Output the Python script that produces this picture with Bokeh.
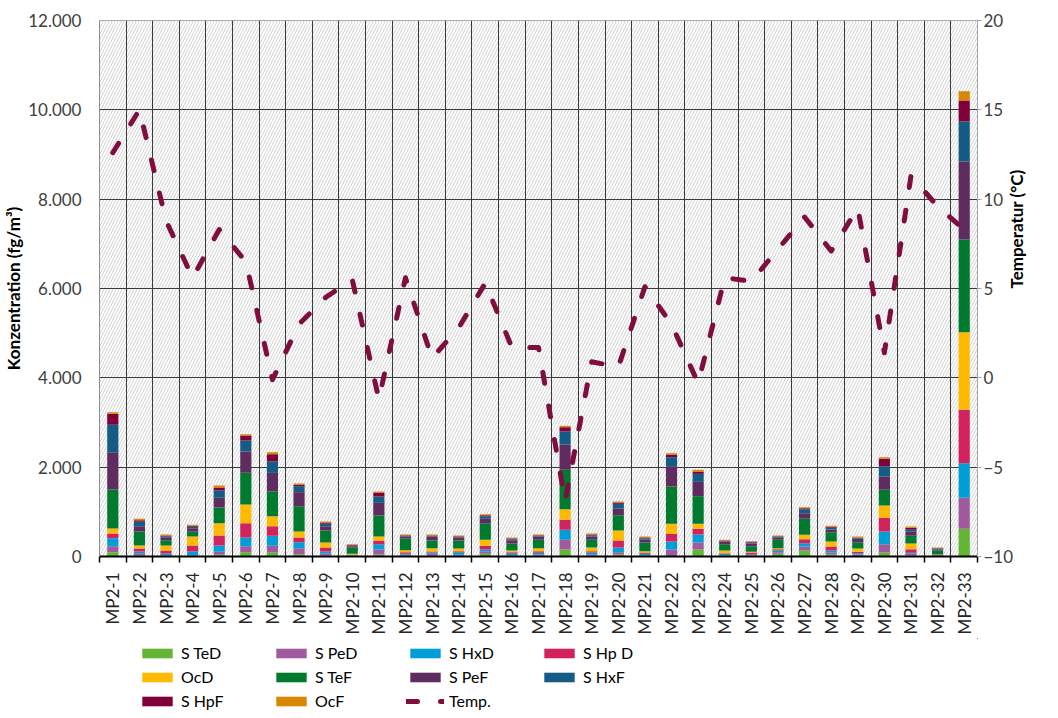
import math
from bokeh.plotting import figure
from bokeh.layouts import column
from bokeh.models import (Range1d, LinearAxis, FixedTicker, BoxAnnotation,
                          Legend, LegendItem, ColumnDataSource)
from bokeh.embed import file_html
from bokeh.resources import INLINE

# ---------------- data ----------------
categories = ["MP2-1", "MP2-2", "MP2-3", "MP2-4", "MP2-5", "MP2-6", "MP2-7", "MP2-8",
              "MP2-9", "MP2-10", "MP2-11", "MP2-12", "MP2-13", "MP2-14", "MP2-15",
              "MP2-16", "MP2-17", "MP2-18", "MP2-19", "MP2-20", "MP2-21", "MP2-22",
              "MP2-23", "MP2-24", "MP2-25", "MP2-26", "MP2-27", "MP2-28", "MP2-29",
              "MP2-30", "MP2-31", "MP2-32", "MP2-33"]

S_TeD = [96, 30, 15, 15, 37, 95, 90, 52, 22, 15, 45, 22, 15, 15, 60, 15, 22, 157, 22, 45,
         15, 10, 157, 15, 15, 60, 134, 45, 15, 90, 15, 7, 620]
S_PeD = [135, 45, 15, 15, 67, 136, 149, 135, 45, 7, 112, 15, 45, 22, 59, 15, 23, 217, 30, 52,
         15, 147, 156, 15, 15, 37, 90, 45, 30, 186, 45, 7, 694]
S_HxD = [179, 37, 37, 82, 142, 194, 224, 134, 45, 8, 119, 23, 30, 60, 45, 45, 37, 224, 38, 104,
         30, 179, 179, 30, 15, 37, 74, 44, 30, 284, 22, 7, 775]
S_HpD = [105, 67, 67, 134, 224, 321, 216, 104, 89, 7, 82, 37, 22, 22, 75, 22, 37, 224, 29, 157,
         30, 171, 127, 15, 45, 30, 90, 90, 29, 305, 82, 15, 1196]
OcD = [112, 67, 112, 202, 276, 418, 224, 135, 112, 23, 90, 45, 75, 60, 134, 37, 68, 237, 82, 224,
       29, 224, 112, 59, 14, 23, 97, 112, 75, 276, 127, 7, 1737]
S_TeF = [873, 314, 120, 104, 351, 709, 552, 566, 269, 134, 470, 261, 171, 179, 373, 157, 186, 882,
         172, 343, 194, 836, 619, 142, 127, 186, 358, 209, 142, 351, 172, 90, 2076]
S_PeF = [835, 119, 67, 82, 216, 477, 417, 314, 97, 37, 283, 45, 82, 67, 97, 75, 75, 567, 75, 149,
         67, 455, 321, 52, 60, 45, 127, 59, 74, 298, 89, 30, 1746]
S_HxF = [614, 97, 22, 30, 164, 246, 254, 134, 52, 15, 142, 15, 15, 15, 60, 22, 15, 291, 29, 105,
         30, 201, 179, 15, 22, 22, 89, 38, 23, 232, 45, 15, 896]
S_HpF = [246, 37, 15, 22, 67, 112, 164, 37, 30, 15, 89, 15, 15, 15, 22, 15, 15, 96, 15, 30,
         15, 60, 52, 15, 15, 15, 23, 22, 7, 164, 45, 7, 470]
OcF = [36, 30, 22, 23, 45, 30, 45, 23, 22, 15, 23, 14, 22, 15, 23, 22, 14, 31, 23, 22,
       23, 30, 38, 15, 15, 15, 22, 22, 23, 37, 29, 15, 208]

temperature = [12.6, 15.0, 8.8, 5.6, 8.3, 6.5, -0.1, 3.0, 4.5, 5.5,
               -1.2, 5.6, 1.1, 2.8, 5.3, 1.7, 1.7, -6.9, 0.9, 0.6,
               5.1, 3.0, -0.3, 5.6, 5.4, 7.2, 9.0, 7.1, 9.5, 1.4,
               11.3, 9.6, 8.3]

series_names = ["S TeD", "S PeD", "S HxD", "S Hp D", "OcD", "S TeF", "S PeF", "S HxF", "S HpF", "OcF"]
series_keys = ["S_TeD", "S_PeD", "S_HxD", "S_HpD", "OcD", "S_TeF", "S_PeF", "S_HxF", "S_HpF", "OcF"]
series_values = [S_TeD, S_PeD, S_HxD, S_HpD, OcD, S_TeF, S_PeF, S_HxF, S_HpF, OcF]
series_colors = ["#62B633", "#A05A9E", "#009DD6", "#D2225E", "#FDBA00",
                 "#007A2E", "#5F2C60", "#145B86", "#80003A", "#D98600"]
temp_color = "#800D3F"

conc_ticks = [0, 2000, 4000, 6000, 8000, 10000, 12000]
conc_labels = ["0", "2.000", "4.000", "6.000", "8.000", "10.000", "12.000"]
temp_ticks = [-10, -5, 0, 5, 10, 15, 20]

# ---------------- layout helpers ----------------
n = len(categories)
centers = [i + 0.5 for i in range(n)]
bounds = list(range(n + 1))

data = {"x": centers, "temp": temperature}
for k, v in zip(series_keys, series_values):
    data[k] = v
src = ColumnDataSource(data)

FONT = "Lato"
DASH = "11 23"

p = figure(width=1042, height=638, x_range=Range1d(0, n), y_range=Range1d(0, 12000),
           output_backend="svg", toolbar_location=None,
           min_border_left=91, min_border_right=65, min_border_top=20, min_border_bottom=82)
p.extra_y_ranges = {"temp": Range1d(-10, 20)}
p.background_fill_color = "white"
p.border_fill_color = "white"
p.outline_line_color = "#8c8c8c"

bg = BoxAnnotation(fill_color="white", fill_alpha=1.0, hatch_pattern="/",
                   hatch_color="#d2d2d2", hatch_scale=6, hatch_weight=1,
                   line_color=None, level="image")
p.add_layout(bg)

# grids
p.xgrid.ticker = FixedTicker(ticks=bounds)
p.xgrid.grid_line_color = "#3a3a3a"
p.xgrid.grid_line_width = 1
p.ygrid.ticker = FixedTicker(ticks=conc_ticks)
p.ygrid.grid_line_color = "#3a3a3a"
p.ygrid.grid_line_width = 1

# bars
renderers = p.vbar_stack(series_keys, x="x", width=0.42, source=src,
                         color=series_colors, line_color=None)

# temperature line
temp_r = p.line("x", "temp", source=src, y_range_name="temp", line_color=temp_color,
                line_width=5, line_dash=DASH, line_cap="round", line_join="round")

# x axis
xa = p.xaxis[0]
xa.ticker = FixedTicker(ticks=centers, minor_ticks=bounds)
xa.major_label_overrides = {c: lab for c, lab in zip(centers, categories)}
xa.major_label_orientation = math.pi / 2
xa.major_tick_out = 0
xa.major_tick_in = 0
xa.minor_tick_out = 6
xa.minor_tick_in = 0
xa.minor_tick_line_color = "#000000"
xa.minor_tick_line_width = 1.5
xa.axis_line_color = "#000000"
xa.axis_line_width = 2
xa.major_label_standoff = 10
xa.major_label_text_font = FONT
xa.major_label_text_font_size = "17px"
xa.major_label_text_color = "#262626"

# left axis
ya = p.yaxis[0]
ya.ticker = FixedTicker(ticks=conc_ticks)
ya.major_label_overrides = {t: lab for t, lab in zip(conc_ticks, conc_labels)}
ya.major_tick_out = 0
ya.major_tick_in = 0
ya.minor_tick_out = 0
ya.minor_tick_in = 0
ya.axis_line_color = "#8c8c8c"
ya.major_label_standoff = 18
ya.major_label_text_font = FONT
ya.major_label_text_font_size = "17px"
ya.major_label_text_color = "#404040"
ya.axis_label = "Konzentration (fg/m³)"
ya.axis_label_text_font = FONT
ya.axis_label_text_font_style = "bold"
ya.axis_label_text_font_size = "17px"
ya.axis_label_text_color = "#000000"
ya.axis_label_standoff = 1

# right axis
ra = LinearAxis(y_range_name="temp", ticker=FixedTicker(ticks=temp_ticks))
ra.major_tick_out = 4
ra.major_tick_in = 0
ra.minor_tick_out = 0
ra.minor_tick_in = 0
ra.major_tick_line_color = "#9ea7b0"
ra.axis_line_color = "#9ea7b0"
ra.major_label_standoff = 2
ra.major_label_text_font = FONT
ra.major_label_text_font_size = "17px"
ra.major_label_text_color = "#404040"
ra.axis_label = "Temperatur (°C)"
ra.axis_label_text_font = FONT
ra.axis_label_text_font_style = "bold"
ra.axis_label_text_font_size = "17px"
ra.axis_label_text_color = "#000000"
ra.axis_label_standoff = 0
if "axis_label_orientation" in ra.properties():
    ra.axis_label_orientation = math.pi / 2
p.add_layout(ra, "right")

# ---------------- legend (own strip below the chart) ----------------
# proxies use the same data, mapped moderately far outside this strip's visible area
lg = figure(width=1042, height=72, x_range=Range1d(-200, -100), y_range=Range1d(-1000, -500),
            output_backend="svg", toolbar_location=None,
            x_axis_type=None, y_axis_type=None,
            min_border_left=0, min_border_right=0, min_border_top=0, min_border_bottom=0)
lg.outline_line_color = None
lg.grid.visible = False
lg.background_fill_color = "white"
lg.border_fill_color = "white"

key_rs = lg.vbar_stack(series_keys, x="x", width=0.42, source=src,
                       color=series_colors, line_color=None)
key_line = lg.line("x", "temp", source=src, line_color=temp_color, line_width=5,
                   line_dash=DASH, line_cap="round")

items = [LegendItem(label=nm, renderers=[r]) for nm, r in zip(series_names, key_rs)]
items.append(LegendItem(label="Temp.", renderers=[key_line]))
legend = Legend(items=items, orientation="horizontal", ncols=4, location=(39, 0),
                glyph_width=38, glyph_height=12, label_width=86, label_height=18,
                spacing=5, label_standoff=5, border_line_color=None,
                background_fill_alpha=0, padding=0, margin=0,
                label_text_font=FONT, label_text_font_size="16px",
                label_text_color="#000000")
lg.add_layout(legend, "center")

layout = column(p, lg, spacing=0)
open("out.html", "w").write(file_html(layout, INLINE))
